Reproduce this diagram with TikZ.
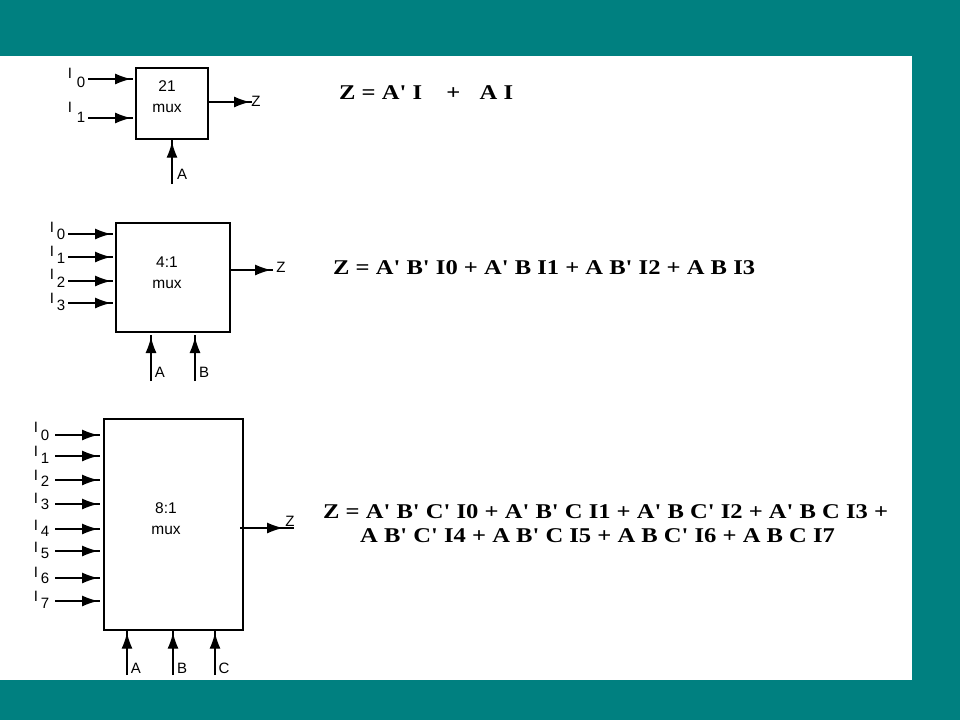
\documentclass[tikz,border=0pt]{standalone}
\usepackage{fontspec}
\setmainfont{Liberation Sans}
\newfontfamily\eqfont[FakeStretch=1.17]{Liberation Serif}
\usetikzlibrary{arrows.meta,decorations.markings}
\definecolor{slidebg}{RGB}{0,128,128}
\tikzset{
  muxbox/.style={draw, line width=1.4pt, inner sep=0pt},
  wire/.style={line width=1.3pt, postaction={decorate},
    decoration={markings, mark=at position #1 with {\arrow{Latex[length=16pt,width=11pt]}}}},
  wire/.default=-2pt,
  pinlabel/.style={inner sep=0pt, font=\fontsize{15}{17}\selectfont},
  muxlabel/.style={inner sep=0pt, align=center, font=\fontsize{15.5}{21}\selectfont},
  eqn/.style={inner sep=0pt, anchor=west, font=\eqfont\bfseries\fontsize{21}{24}\selectfont}
}
\begin{document}
\begin{tikzpicture}[x=1pt, y=-1pt]
        \fill[slidebg] (0,0) rectangle (960,720);
        \fill[white] (0,56) rectangle (912,680);
        % 2:1 mux
        \node[muxbox, minimum width=72pt, minimum height=71pt] (muxa) at (172,103.5) {};
        \node[muxlabel] (muxatext) at (167,97) {21\\mux};
        \foreach \i/\y/\ly/\dy in {0/79/73/82, 1/118/107/117} {
          \coordinate (ina\i) at (88,\y);
          \coordinate (enda\i) at (133,\y);
          \draw[wire] (ina\i) -- (enda\i);
          \node[pinlabel] (Ia\i) at (70,\ly) {I};
          \node[pinlabel] (dIa\i) at (81,\dy) {\i};
        }
        \coordinate (outa) at (252,102);
        \draw[wire] (muxa.east |- outa) -- (outa);
        \node[pinlabel] (Za) at (256,101) {Z};
        \coordinate (sela) at (172,184);
        \draw[wire] (sela) -- (sela |- muxa.south);
        \node[pinlabel] (Sa) at (182,174) {A};
        % 4:1 mux
        \node[muxbox, minimum width=114pt, minimum height=109pt] (muxb) at (173,277.5) {};
        \node[muxlabel] (muxbtext) at (167,272.5) {4:1\\mux};
        \foreach \i/\y/\ly/\dy in {0/234/227/234, 1/257/251/258, 2/281/274/282, 3/303/298/305} {
          \coordinate (inb\i) at (68,\y);
          \coordinate (endb\i) at (113,\y);
          \draw[wire] (inb\i) -- (endb\i);
          \node[pinlabel] (Ib\i) at (52,\ly) {I};
          \node[pinlabel] (dIb\i) at (61,\dy) {\i};
        }
        \coordinate (outb) at (273,270);
        \draw[wire] (muxb.east |- outb) -- (outb);
        \node[pinlabel] (Zb) at (281,267) {Z};
        \foreach \n/\x in {A/151, B/195} {
          \coordinate (selb\n) at (\x,381);
          \draw[wire] (selb\n) -- (selb\n |- 0,335);
          \node[pinlabel] (Sb\n) at (\x+9,372) {\n};
        }
        % 8:1 mux
        \node[muxbox, minimum width=139pt, minimum height=211pt] (muxc) at (173.5,524.5) {};
        \node[muxlabel] (muxctext) at (166,519) {8:1\\mux};
        \foreach \i/\y/\ly/\dy in {0/435/427/435, 1/456/451/458, 2/480/475/481, 3/504/498/504,
                                   4/529/525/531, 5/551/547/553, 6/578/572/578, 7/601/596/603} {
          \coordinate (inc\i) at (55,\y);
          \coordinate (endc\i) at (100,\y);
          \draw[wire] (inc\i) -- (endc\i);
          \node[pinlabel] (Ic\i) at (36,\ly) {I};
          \node[pinlabel] (dIc\i) at (45,\dy) {\i};
        }
        \coordinate (startc) at (240,528);
        \coordinate (outc) at (294,528);
        \draw[wire=-11pt] (startc) -- (outc);
        \node[pinlabel] (Zc) at (290,521) {Z};
        \foreach \n/\x in {A/127, B/173, C/215} {
          \coordinate (selc\n) at (\x,675);
          \draw[wire] (selc\n) -- (selc\n |- muxc.south);
          \node[pinlabel] (Sc\n) at (\x+9,668) {\n};
        }
        % equations
        \node[eqn] (eqa) at (339,93) {Z = A' I \hspace{12pt} + \hspace{7pt} A I};
        \node[eqn] (eqb) at (333,268) {Z = A' B' I0 + A' B I1 + A B' I2 + A B I3};
        \node[eqn] (eqc) at (323,512) {Z = A' B' C' I0 + A' B' C I1 + A' B C' I2 + A' B C I3 +};
        \node[eqn] (eqd) at (360,536) {A B' C' I4 + A B' C I5 + A B C' I6 + A B C I7};
      \end{tikzpicture}
\end{document}
